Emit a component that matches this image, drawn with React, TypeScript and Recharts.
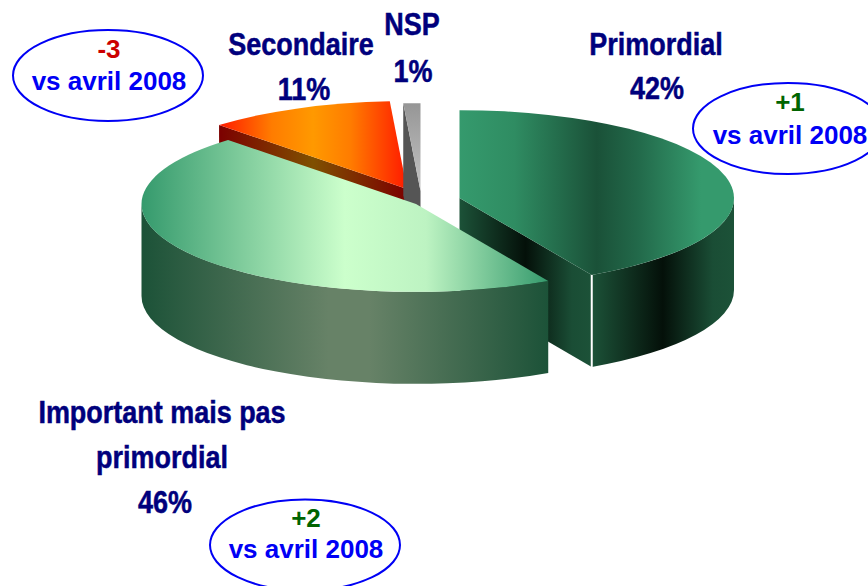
import { Pie, PieChart } from "recharts";

// slices, in clockwise drawing order (back slices first, so the big one sits on top)
const categories = ["Secondaire", "NSP", "Primordial", "Important mais pas primordial"];
const shares = [11, 1, 42, 46];
const labelLines = [["Secondaire"], ["NSP"], ["Primordial"], ["Important mais pas", "primordial"]];

const deltaValues = ["-3", "+1", "+2"];
const deltaCaption = "vs avril 2008";

const NAVY = "#00007c";
const BLUE = "#0000f5";
const RED = "#cc0000";
const GREEN = "#006400";

const CENTER_X = 416;
const CENTER_Y = 204;
const RADIUS = 274.5;
const SQUASH = 0.32;
const DEPTH = 92;

type SliceStyle = { dx: number; dy: number; top: string; wall: string; cut: string; seam?: boolean };

const sliceStyles: Record<string, SliceStyle> = {
  Secondaire: { dx: -9, dy: -15, top: "url(#topOrange)", wall: "url(#wallMaroon)", cut: "url(#wallMaroon)" },
  NSP: { dx: 4.5, dy: -13, top: "url(#topGrey)", wall: "#555555", cut: "#555555" },
  Primordial: { dx: 43.5, dy: -6, top: "url(#topDark)", wall: "url(#wallDark)", cut: "url(#wallDark)", seam: true },
  "Important mais pas primordial": { dx: 0, dy: 0, top: "url(#topMint)", wall: "url(#wallSage)", cut: "url(#wallSage)" },
};

const labelStyles = [
  { x: 301, y: 55, gap: 45, pctX: 304 },
  { x: 412, y: 35, gap: 47, pctX: 413 },
  { x: 656, y: 55, gap: 44, pctX: 657 },
  { x: 162, y: 423, gap: 45, pctX: 165 },
];

const calloutStyles = [
  { cx: 108, cy: 75.5, textX: 109, deltaY: 58, captionY: 90, color: RED },
  { cx: 788, cy: 128.5, textX: 790, deltaY: 111, captionY: 144, color: GREEN },
  { cx: 305, cy: 545, textX: 306, deltaY: 527, captionY: 558, color: GREEN },
];

const rows = categories.map((name, i) => ({ name, value: shares[i] }));

function Slice3D(props: any) {
  const style = sliceStyles[props.name];
  const cx = props.cx + style.dx;
  const cy = props.cy + style.dy;
  const rx = props.outerRadius;
  const ry = rx * SQUASH;

  // recharts angles run counter-clockwise from 3 o'clock, here clockwise from 12 o'clock
  const a0 = Math.round(((90 - props.startAngle) % 360 + 360) % 360 * 1000) / 1000;
  const a1 = a0 + Math.abs(props.endAngle - props.startAngle);
  const pt = (deg: number) => {
    const r = (deg * Math.PI) / 180;
    return [cx + rx * Math.sin(r), cy - ry * Math.cos(r)];
  };
  const [x0, y0] = pt(a0);
  const [x1, y1] = pt(a1);
  const topPath = `M${cx},${cy} L${x0},${y0} A${rx},${ry} 0 ${a1 - a0 > 180 ? 1 : 0} 1 ${x1},${y1} Z`;

  const faces: { d: string; fill: string }[] = [];
  const radial = (x: number, y: number) => `M${cx},${cy} L${x},${y} L${x},${y + DEPTH} L${cx},${cy + DEPTH} Z`;
  if (Math.sin((a0 * Math.PI) / 180) < -0.001) faces.push({ d: radial(x0, y0), fill: style.cut });
  if (Math.sin((a1 * Math.PI) / 180) > 0.001) faces.push({ d: radial(x1, y1), fill: style.cut });

  const from = Math.max(a0, 90);
  const to = Math.min(a1, 270);
  if (to > from) {
    const [wx0, wy0] = pt(from);
    const [wx1, wy1] = pt(to);
    faces.push({
      d: `M${wx0},${wy0} A${rx},${ry} 0 0 1 ${wx1},${wy1} L${wx1},${wy1 + DEPTH} A${rx},${ry} 0 0 0 ${wx0},${wy0 + DEPTH} Z`,
      fill: style.wall,
    });
  }

  return (
    <g>
      {faces.map((f, i) => (
        <path key={i} d={f.d} fill={f.fill} />
      ))}
      {style.seam && <line x1={x1} y1={y1} x2={x1} y2={y1 + DEPTH} stroke="#ffffff" strokeWidth={2} />}
      <path d={topPath} fill={style.top} />
    </g>
  );
}

function SliceLabel(props: any) {
  const i = shares.indexOf(props.value);
  const place = labelStyles[i];
  const lines = labelLines[i];
  const textProps = {
    fill: NAVY,
    stroke: NAVY,
    strokeWidth: 0.5,
    fontSize: 31,
    fontWeight: 700,
    fontFamily: "Liberation Sans",
    textAnchor: "middle" as const,
  };
  return (
    <g>
      {lines.map((line, k) => (
        <text key={k} transform={`translate(${place.x},${place.y + k * place.gap}) scale(0.87,1)`} {...textProps}>
          {line}
        </text>
      ))}
      <text transform={`translate(${place.pctX},${place.y + lines.length * place.gap}) scale(0.87,1)`} {...textProps}>
        {props.value}%
      </text>
    </g>
  );
}

function stops(colors: [number, string][]) {
  return colors.map(([o, c]) => <stop key={o} offset={o} stopColor={c} />);
}

export default function App() {
  return (
    <div style={{ position: "absolute", left: 0, top: 0, width: 868, height: 586, overflow: "hidden", background: "#fff" }}>
      <PieChart width={868} height={586} margin={{ top: 0, right: 0, bottom: 0, left: 0 }}>
        <defs>
          <linearGradient id="topDark" x1="0" x2="1" y1="0" y2="0">
            {stops([[0, "#359a6d"], [0.2, "#2f8c62"], [0.5, "#1a5138"], [0.65, "#22694a"], [0.88, "#359a6d"], [1, "#359a6d"]])}
          </linearGradient>
          <linearGradient id="wallDark" x1="0" x2="1" y1="0" y2="0">
            {stops([[0, "#1c5238"], [0.5, "#041009"], [0.85, "#1a4d35"], [1, "#1c5238"]])}
          </linearGradient>
          <linearGradient id="wallCut" x1="0" x2="1" y1="0" y2="0">
            {stops([[0, "#1c5238"], [0.5, "#041009"], [1, "#1c5238"]])}
          </linearGradient>
          <linearGradient id="topMint" x1="0" x2="1" y1="0" y2="0">
            {stops([[0, "#359a6d"], [0.5, "#ccffcc"], [0.7, "#bdf3c2"], [1, "#359a6d"]])}
          </linearGradient>
          <linearGradient id="wallSage" x1="0" x2="1" y1="0" y2="0">
            {stops([[0, "#1c5238"], [0.46, "#678267"], [0.56, "#678267"], [1, "#1c5238"]])}
          </linearGradient>
          <linearGradient id="topOrange" x1="0" x2="1" y1="0" y2="0">
            {stops([[0, "#ff1a00"], [0.28, "#ff7c00"], [0.5, "#ff9900"], [0.7, "#ff7c00"], [1, "#ff1a00"]])}
          </linearGradient>
          <linearGradient id="wallMaroon" x1="0" x2="1" y1="0" y2="0">
            {stops([[0, "#7c0000"], [0.5, "#7f5000"], [1, "#7c0000"]])}
          </linearGradient>
          <linearGradient id="topGrey" x1="0" x2="0" y1="0" y2="1">
            {stops([[0, "#969696"], [1, "#c4c4c4"]])}
          </linearGradient>
        </defs>
        {calloutStyles.map((c, i) => (
          <g key={i} fontFamily="Liberation Sans" fontWeight={700} textAnchor="middle">
            <ellipse cx={c.cx} cy={c.cy} rx={95} ry={45.5} fill="#ffffff" stroke={BLUE} strokeWidth={2} />
            <text x={c.textX} y={c.deltaY} fontSize={26} fill={c.color}>
              {deltaValues[i]}
            </text>
            <text x={c.textX} y={c.captionY} fontSize={26} fill={BLUE}>
              {deltaCaption}
            </text>
          </g>
        ))}
        <Pie
          data={rows}
          dataKey="value"
          nameKey="name"
          cx={CENTER_X}
          cy={CENTER_Y}
          innerRadius={0}
          outerRadius={RADIUS}
          startAngle={133.2}
          endAngle={-226.8}
          stroke="none"
          shape={Slice3D}
          label={SliceLabel}
          labelLine={false}
          isAnimationActive={false}
        />
      </PieChart>
    </div>
  );
}
